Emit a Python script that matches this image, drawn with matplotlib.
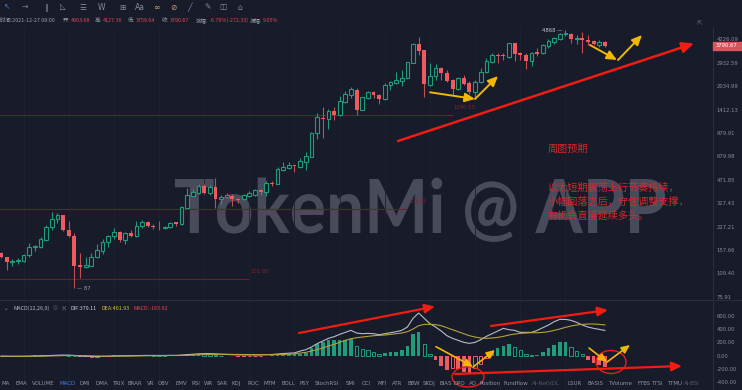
import numpy as np
import matplotlib
matplotlib.use("Agg")
import matplotlib.pyplot as plt
from matplotlib.patches import Rectangle, Ellipse, PathPatch
from matplotlib.textpath import TextPath
from matplotlib.font_manager import FontProperties
from matplotlib.transforms import Affine2D
from matplotlib.ticker import NullLocator

CJK = ["Noto Sans CJK SC", "DejaVu Sans"]
plt.rcParams["font.family"] = CJK

# ETH/USDT weekly candles
opens = [150, 141, 130, 132, 133, 145, 164, 165, 183, 225, 255, 272, 214, 196, 124, 121, 123, 141, 156, 177,
         195, 207, 185, 204, 196, 228, 242, 230, 227, 222, 225, 242, 236, 305, 368, 386, 428, 382, 424, 348,
         362, 367, 350, 347, 368, 370, 402, 392, 450, 443, 549, 567, 594, 578, 625, 676, 974, 1244, 1212, 1379,
         1290, 1588, 1779, 1923, 1401, 1690, 1848, 1771, 1656, 2070, 2126, 2214, 2299, 2933, 3927, 3576, 2070, 2382, 2688, 2508,
         2228, 1945, 2320, 2146, 1865, 2159, 2524, 2979, 3322, 3322, 3191, 3971, 3412, 3322, 3026, 3482, 3397, 3806, 4033, 4245,
         4570, 4591, 4220, 4294, 4180, 4115, 3866, 4063.68]
highs = [152, 142, 136, 139, 147, 176, 170, 192, 232, 285, 282, 274, 249, 205, 150, 142, 151, 172, 187, 199,
         223, 212, 207, 215, 247, 251, 249, 236, 248, 229, 244, 245, 314, 413, 407, 439, 440, 433, 485, 374,
         386, 376, 356, 376, 396, 409, 409, 465, 465, 578, 619, 625, 596, 665, 730, 998, 1343, 1462, 1416, 1462,
         1752, 1885, 2016, 1966, 1725, 1894, 1885, 1790, 2126, 2203, 2547, 2616, 2979, 3971, 4401, 3590, 2906, 2860, 2755, 2616,
         2263, 2335, 2420, 2193, 2238, 2688, 3142, 3397, 3397, 3428, 4007, 4007, 3482, 3397, 3482, 3673, 3908, 4226, 4400, 4685,
         4868, 4685, 4519, 4759, 4498, 4180, 4160, 4127.36]
lows = [139, 115, 122, 126, 131, 142, 155, 162, 182, 215, 240, 211, 193, 87, 102, 119, 122, 139, 148, 166,
        187, 178, 174, 194, 194, 222, 226, 218, 214, 220, 222, 229, 232, 302, 359, 376, 378, 372, 305, 323,
        352, 312, 330, 345, 362, 366, 370, 368, 430, 439, 540, 555, 530, 569, 549, 670, 890, 909, 1037, 1198,
        1270, 1570, 1698, 1296, 1395, 1672, 1698, 1539, 1638, 1915, 2093, 2038, 2263, 2920, 3307, 1725, 2047, 2238, 2238, 2179,
        1771, 1915, 2070, 1799, 1664, 2126, 2485, 2933, 2933, 3059, 3142, 3026, 3059, 2645, 2785, 3256, 3359, 3673, 3927, 4180,
        4449, 3971, 3908, 3428, 3866, 3850, 3750, 3759.64]
closes = [141, 130, 133, 135, 145, 164, 167, 187, 226, 256, 271, 214, 196, 122, 121, 125, 142, 158, 178, 195,
          208, 184, 204, 197, 229, 244, 228, 226, 224, 227, 240, 236, 307, 370, 390, 428, 386, 424, 348, 362,
          370, 350, 342, 371, 382, 400, 392, 451, 439, 555, 573, 597, 583, 632, 683, 974, 1251, 1212, 1386, 1296,
          1605, 1799, 1935, 1401, 1709, 1856, 1771, 1664, 2070, 2159, 2238, 2320, 2952, 3927, 3537, 2093, 2382, 2688, 2485, 2203,
          1945, 2299, 2102, 1865, 2179, 2547, 3012, 3307, 3256, 3256, 3971, 3359, 3307, 3026, 3428, 3359, 3866, 4095, 4294, 4591,
          4643, 4226, 4300, 4180, 4051, 3908, 4070, 3790.67]

# MACD(12,26,9) panel
dif = [-9, -10, -10, -10, -9, -7, -5, -3, 0, 4, 7, 9, 8, 4, -4, -9, -11, -11, -10, -8,
       -5, -3, -2, -1, 1, 3, 4, 4, 4, 4, 5, 5, 9, 16, 22, 28, 30, 31, 27, 22,
       19, 15, 13, 12, 12, 12, 12, 16, 18, 25, 32, 38, 42, 70, 90, 130, 180, 220, 260, 285,
       320, 350, 380, 340, 330, 335, 330, 315, 330, 345, 360, 380, 430, 560, 640, 560, 480, 430, 370, 300,
       260, 230, 200, 185, 200, 240, 290, 330, 370, 410, 390, 380, 350, 350, 350, 380, 420, 460, 510, 545,
       545, 530, 500, 460, 430, 410, 395, 379.11]
dea = [-6, -7, -8, -8, -9, -8, -8, -7, -5, -3, -1, 1, 3, 3, 2, 0, -3, -5, -7, -7,
       -7, -6, -5, -4, -3, -2, -1, 0, 1, 2, 3, 3, 4, 6, 10, 13, 17, 19, 21, 21,
       21, 20, 19, 18, 17, 16, 15, 15, 16, 17, 20, 23, 27, 40, 50, 70, 90, 115, 145, 170,
       200, 230, 255, 270, 280, 290, 300, 305, 310, 320, 330, 340, 360, 400, 450, 470, 470, 465, 450, 420,
       390, 360, 330, 300, 280, 265, 260, 265, 275, 290, 310, 325, 335, 340, 345, 345, 350, 360, 380, 400,
       425, 445, 460, 470, 475, 475, 470, 461.93]
macd_hist = [-6, -6, -4, -4, 0, 2, 6, 8, 10, 14, 16, 16, 10, 2, -12, -18, -16, -12, -6, -2,
             4, 6, 6, 6, 8, 10, 10, 8, 6, 4, 4, 4, 10, 20, 24, 30, 26, 24, 12, 2,
             -4, -10, -12, -12, -10, -8, -6, 2, 4, 16, 24, 30, 30, 30, 40, 120, 180, 210, 230, 230,
             240, 240, 250, 140, 100, 90, 60, 20, 40, 50, 60, 80, 140, 320, 360, 180, 20, -70, -160, -220,
             -180, -200, -240, -260, -180, -130, -40, 70, 110, 150, 180, 130, 90, 20, 10, 10, 60, 120, 160, 200,
             200, 130, 70, 20, -60, -110, -140, -165.62]

price_ticks = [4226.09, 2932.59, 2034.99, 1412.13, 979.91, 679.98, 471.85, 327.43, 227.21, 157.66, 109.40, 75.91]
macd_ticks = [600, 400, 200, 0, -200, -400]
level_prices = [1290.95, 297.0, 99.6]
level_labels = ["1290.95", "301.95", "101.95"]
level_ends = [80, 72, 44]            # candle index where each level line stops

header = [("时间:2021-12-27 08:00", 0), ("开:", 63), ("4063.68", 70), ("高:", 95), ("4127.36", 100),
          ("低:", 128), ("3759.64", 135), ("收:", 162), ("3790.67", 168), ("涨幅:", 196),
          ("-6.70%(-272.33)", 205), ("振幅:", 245), ("9.05%", 254)]
tabs = ["MA", "EMA", "VOLUME", "MACD", "DMI", "DMA", "TRIX", "BRAR", "VR", "OBV", "EMV", "RSI", "WR", "SAR",
        "KDJ", "ROC", "MTM", "BOLL", "PSY", "StochRSI", "SMI", "CCI", "MFI", "ATR", "BBW", "SKDJ", "BIAS",
        "DPO", "AO", "Position", "Fundflow", "AI-NetVOL", "LSUR", "BASIS", "TVolume", "FTBS", "TTSI", "TTMU", "AI-BSI"]
tab_x = [2, 16, 32, 59, 80, 95, 112, 128, 147, 158, 175, 192, 204, 217, 232, 247, 264, 282, 299, 315, 346, 362,
         377, 392, 407, 423, 440, 454, 469, 480, 504, 532, 567, 587, 608, 637, 651, 667, 684]
note_title = "周图预期"
note_lines = ["以太短期震荡上行节奏持续，", "小幅回落之后，守住调整支撑，", "有机会直接延续多头。"]

BG = "#171b2a"
GREEN = "#1f9d7b"
RED = "#ef5a60"
GRAY = "#8a8e9b"
ARROW_RED = "#f21d12"
YELLOW = "#f2b705"
SYM = ["DejaVu Sans", "Noto Sans CJK SC"]

W, H = 742, 390
fig = plt.figure(figsize=(W / 100, H / 100), dpi=100)
fig.patch.set_facecolor(BG)


def box(x0, y0, x1, y1):
    return [x0 / W, 1 - y1 / H, (x1 - x0) / W, (y1 - y0) / H]


def pixel_axes(z):
    a = fig.add_axes([0, 0, 1, 1], zorder=z)
    a.set_xlim(0, W)
    a.set_ylim(H, 0)
    a.axis("off")
    a.patch.set_alpha(0)
    return a


bg = pixel_axes(0)
ax = fig.add_axes(box(0, 28, 712, 299), zorder=1)
axm = fig.add_axes(box(0, 300, 712, 390), zorder=1)
top = pixel_axes(5)

# watermark
wm_prop = FontProperties(family="Lato", weight="bold")
wm = TextPath((0, 0), "TokenMi @ APP", size=100, prop=wm_prop)
cap = TextPath((0, 0), "T", size=100, prop=wm_prop).get_extents().height
ext = wm.get_extents()
sx = (665 - 175) / ext.width
sy = (233 - 179) / cap
tr = Affine2D().translate(-ext.x0, 0).scale(sx, -sy).translate(175, 233)
bg.add_patch(PathPatch(tr.transform_path(wm), facecolor="#474b5b", edgecolor="none"))

# candles
x = np.arange(len(closes))
o, h, l, c = (np.array(v, dtype=float) for v in (opens, highs, lows, closes))
up = c >= o
hi_b = np.maximum(o, c)
lo_b = np.minimum(o, c)
hi_b = np.maximum(hi_b, lo_b * 1.012)
ax.set_yscale("log")
for i in x:
    if up[i]:
        ax.vlines(i, hi_b[i], h[i], color=GREEN, lw=0.8, zorder=2)
        ax.vlines(i, l[i], lo_b[i], color=GREEN, lw=0.8, zorder=2)
    else:
        ax.vlines(i, l[i], h[i], color="#c64d54", lw=0.8, zorder=2)
ax.bar(x[up], hi_b[up] - lo_b[up], bottom=lo_b[up], width=0.66, facecolor=BG, edgecolor=GREEN, lw=0.8, zorder=3)
ax.bar(x[~up], hi_b[~up] - lo_b[~up], bottom=lo_b[~up], width=0.7, color=RED, lw=0, zorder=3)

for p, lab, e in zip(level_prices, level_labels, level_ends):
    ax.hlines(p, -1, e, color="#6b1f29", lw=0.8, zorder=1)
    ax.text(e + 0.2, p * 1.13, lab, color="#7d2630", fontsize=3.8, va="center", ha="left", family="DejaVu Sans")

ax.text(100 - 0.5, h[100], "4868 —", color="#c3c6ce", fontsize=3.8, ha="right", va="center", family="DejaVu Sans")
ax.text(13 + 0.4, l[13] * 0.995, "— 87", color="#9da1ab", fontsize=3.8, ha="left", va="center", family="DejaVu Sans")

ax.set_xlim(-0.177, 125.97)
ax.set_ylim(73.25, 5041.6)
ax.set_facecolor("none")
for s in ax.spines.values():
    s.set_visible(False)
ax.set_xticks([])
ax.yaxis.tick_right()
ax.yaxis.set_minor_locator(NullLocator())
ax.set_yticks(price_ticks)
ax.set_yticklabels([f"{t:.2f}" for t in price_ticks], family="DejaVu Sans")
ax.tick_params(axis="y", length=0, pad=3.2, labelsize=3.8, labelcolor=GRAY)
for gx in range(4, 108, 8):
    ax.axvline(gx, color="#1e2233", lw=0.6, zorder=0)
    axm.axvline(gx, color="#1e2233", lw=0.6, zorder=0)

# MACD panel
mh = np.array(macd_hist, dtype=float)
prev = np.concatenate([[0], mh[:-1]])
pos = mh >= 0
solid = np.where(pos, mh >= prev, mh <= prev)
col = np.where(pos, GREEN, RED)
for i in x:
    if solid[i]:
        axm.bar(i, mh[i], width=0.64, color=col[i], lw=0, zorder=2)
    else:
        axm.bar(i, mh[i], width=0.6, facecolor=BG, edgecolor=col[i], lw=0.7, zorder=2)
axm.plot(x, dif, color="#b9bcc6", lw=0.8, zorder=3)
axm.plot(x, dea, color="#b5a13a", lw=0.8, zorder=3)
axm.set_xlim(-0.177, 125.97)
axm.set_ylim(-514.5, 835.5)
axm.set_facecolor("none")
for s in axm.spines.values():
    s.set_visible(False)
axm.set_xticks([])
axm.yaxis.tick_right()
axm.set_yticks(macd_ticks)
axm.set_yticklabels([f"{t:.2f}" for t in macd_ticks], family="DejaVu Sans")
axm.tick_params(axis="y", length=0, pad=3.2, labelsize=3.8, labelcolor=GRAY)

# frame lines
top.plot([0, W], [299.5, 299.5], color="#2a2f42", lw=0.7)
top.plot([712.5, 712.5], [28, H], color="#2a2f42", lw=0.7)

# toolbar + header
icons = [("↖", 7, "#3d7fe0"), ("⊸", 25, GRAY), ("∥", 47, GRAY), ("◺", 63, GRAY), ("☰", 83, GRAY),
         ("W", 102, GRAY), ("⊞", 122, GRAY), ("Aa", 140, GRAY), ("∞", 156, "#c9a878"), ("⊘", 173, "#c9a878"),
         ("╱", 190, GRAY), ("✎", 208, GRAY), ("◫", 223, GRAY), ("⌂", 240, GRAY)]
for g, gx, gc in icons:
    top.text(gx, 7, g, color=gc, fontsize=5.5, ha="center", va="center", family=SYM)

fig.canvas.draw()
rend = fig.canvas.get_renderer()
cur = -10
for k, (t, tx) in enumerate(header):
    is_label = k == 0 or t.endswith(":")
    tt = top.text(max(tx, cur + 1.2), 20, t, color="#9a9ea8" if is_label else "#e5484f",
                  fontsize=3.9, ha="left", va="center")
    cur = tt.get_window_extent(rend).x1
top.text(700, 23, "⇱", color="#5d6272", fontsize=5, ha="center", va="center", family=SYM)

# last price tag
top.add_patch(Rectangle((712.5, 42), 29.5, 7.5, color="#d9555b", zorder=6))
top.text(716, 45.8, f"{c[-1]:.2f}", color="white", fontsize=3.8, ha="left", va="center", zorder=7, family="DejaVu Sans")

# MACD header
top.text(4, 308, "⌄", color=GRAY, fontsize=4, va="center", family=SYM)
top.text(13, 308, "MACD(12,26,9)", color="#b3b7c2", fontsize=3.9, va="center")
top.text(55, 308, "◎", color="#5d6272", fontsize=4, ha="center", va="center", family=SYM)
top.text(64.5, 308, "×", color="#8a8e9b", fontsize=4.5, ha="center", va="center")
top.text(70.5, 308, f"DIF:{dif[-1]:.2f}", color="#c8ccd6", fontsize=3.9, va="center")
top.text(101, 308, f"DEA:{dea[-1]:.2f}", color="#d4c23a", fontsize=3.9, va="center")
top.text(133, 308, f"MACD:{macd_hist[-1]:.2f}", color="#e5484f", fontsize=3.9, va="center")

# indicator tabs
for t, tx in zip(tabs, tab_x):
    tc = "#3b82e0" if t == "MACD" else ("#555a6b" if t.startswith("AI-") else "#8f94a3")
    top.text(tx, 385, t, color=tc, fontsize=4.0, ha="left", va="baseline", family="DejaVu Sans")

# hand-drawn annotations
def arrow(p0, p1, color, lw, ms=6):
    top.annotate("", xy=p1, xytext=p0,
                 arrowprops=dict(arrowstyle="-|>,head_length=1.0,head_width=0.45", color=color, lw=lw,
                                 shrinkA=0, shrinkB=0, mutation_scale=ms))


arrow((398, 141), (694, 43.5), ARROW_RED, 1.8, 7)
arrow((430, 92.3), (475, 99), YELLOW, 1.4)
arrow((475, 99), (498, 76), YELLOW, 1.4)
arrow((590, 45), (617, 60), YELLOW, 1.4)
arrow((618, 60), (642, 35), YELLOW, 1.4)
arrow((299, 333), (435, 306.5), ARROW_RED, 1.6, 6)
arrow((491, 326), (608, 310), ARROW_RED, 1.6, 6)
arrow((455, 374), (682, 366), ARROW_RED, 1.6, 6)
arrow((436, 346.7), (473, 366.7), YELLOW, 1.2, 5)
arrow((473, 367), (495, 350), YELLOW, 1.2, 5)
arrow((589, 348), (607, 362), YELLOW, 1.2, 5)
arrow((607, 362), (630, 345), YELLOW, 1.2, 5)
top.add_patch(Ellipse((468, 377), 32, 20, fill=False, ec="#e8201a", lw=1.0))
top.add_patch(Ellipse((611, 362), 30, 23, fill=False, ec="#e8201a", lw=1.0))

top.text(548, 149, note_title, color="#d8282a", fontsize=7.3, ha="left", va="center")
for k, t in enumerate(note_lines):
    top.text(548, 187.5 + 14 * k, t, color="#d8282a", fontsize=7.3, ha="left", va="center")

fig.savefig("out.png", dpi=100, facecolor=BG)
